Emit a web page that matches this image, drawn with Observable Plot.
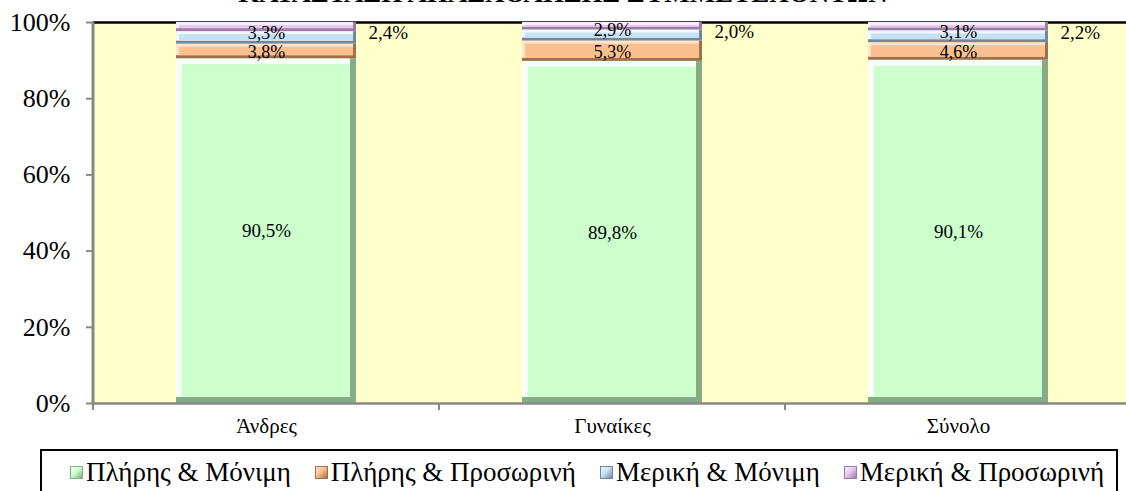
<!DOCTYPE html>
<html>
<head>
<meta charset="utf-8">
<script src="https://cdn.jsdelivr.net/npm/d3@7"></script>
<script src="https://cdn.jsdelivr.net/npm/@observablehq/plot@0.6"></script>
<style>
  html, body { margin: 0; padding: 0; background: #fff; overflow: hidden; }
  #wrap { position: relative; width: 1126px; height: 491px; overflow: hidden; font-family: "Liberation Serif", "Times New Roman", serif; }
  #title { position: absolute; left: 0; width: 1126px; top: -20px; text-align: center; font-weight: bold; font-size: 27px; line-height: 27px; color: #000; }
  #chart { position: absolute; left: 0; top: 0; }
  #legend { position: absolute; left: 40px; top: 449px; width: 1078px; height: 60px; border: 2px solid #000; box-sizing: border-box; display: flex; justify-content: center; gap: 24px; padding-top: 5px; padding-left: 16px; font-size: 27px; color: #000; }
  .item { display: flex; align-items: center; height: 32px; white-space: nowrap; }
  .sw { width: 13px; height: 13px; margin-right: 3px; box-sizing: border-box; }
</style>
</head>
<body>
<div id="wrap">
  <div id="title"></div>
  <div id="chart"></div>
  <div id="legend"></div>
</div>
<script>
const titleText = "ΚΑΤΑΣΤΑΣΗ ΑΠΑΣΧΟΛΗΣΗΣ ΣΥΜΜΕΤΕΧΟΝΤΩΝ";
const categories = ["Άνδρες", "Γυναίκες", "Σύνολο"];
const series = ["Πλήρης & Μόνιμη", "Πλήρης & Προσωρινή", "Μερική & Μόνιμη", "Μερική & Προσωρινή"];
const fullPermanent = [90.5, 89.8, 90.1];
const fullTemporary = [3.8, 5.3, 4.6];
const partPermanent = [3.3, 2.9, 3.1];
const partTemporary = [2.4, 2.0, 2.2];
const yTicks = [0, 20, 40, 60, 80, 100];
const baseColors = ["#CCFFCC", "#FAC090", "#C6E0F4", "#E8C8F0"];
const lightColors = ["#F6FFF6", "#FFE4CC", "#EEF8FF", "#FAEEFF"];
const darkColors = ["#86AC86", "#A0704A", "#70889E", "#9C7CA6"];
const serifFont = "'Liberation Serif', 'Times New Roman', serif";

const valuesBySeries = [fullPermanent, fullTemporary, partPermanent, partTemporary];
const rows = [];
categories.forEach((cat, ci) => {
  let acc = 0;
  series.forEach((s, si) => {
    const v = valuesBySeries[si][ci];
    rows.push({cat, series: s, si, value: v, y1: acc, y2: acc + v, mid: acc + v / 2});
    acc += v;
  });
});
const fmt = v => v.toFixed(1).replace(".", ",") + "%";

document.getElementById("title").textContent = titleText;

function bevel(filterFn, b) {
  return [
    Plot.barY(rows, {filter: filterFn, x: "cat", y1: "y1", y2: "y2", fill: d => darkColors[d.si]}),
    Plot.barY(rows, {filter: filterFn, x: "cat", y1: "y1", y2: "y2", fill: d => lightColors[d.si], insetRight: b, insetBottom: b}),
    Plot.barY(rows, {filter: filterFn, x: "cat", y1: "y1", y2: "y2", fill: d => baseColors[d.si], insetLeft: b, insetRight: b, insetTop: b, insetBottom: b})
  ];
}

const axisExtras = (index, scales, values, dimensions) => {
  const {marginLeft, marginTop, marginBottom, height} = dimensions;
  const x = scales.x;
  const g = d3.create("svg:g");
  const yb = height - marginBottom;
  g.append("line").attr("x1", marginLeft).attr("x2", marginLeft).attr("y1", marginTop).attr("y2", yb + 1)
    .attr("stroke", "#888").attr("stroke-width", 3);
  const step = x.step ? x.step() : (x(categories[1]) - x(categories[0]));
  const bw = x.bandwidth ? x.bandwidth() : 0;
  const start = x(categories[0]) - (step - bw) / 2;
  for (let i = 0; i <= categories.length; i++) {
    const bx = start + i * step;
    g.append("line").attr("x1", bx).attr("x2", bx).attr("y1", yb).attr("y2", yb + 7)
      .attr("stroke", "#888").attr("stroke-width", 2);
  }
  return g.node();
};

const plot = Plot.plot({
  width: 1126,
  height: 447,
  marginTop: 22,
  marginBottom: 44,
  marginLeft: 93,
  marginRight: -5,
  style: {fontFamily: serifFont, background: "transparent", color: "#000"},
  x: {domain: categories, paddingInner: 0.48, paddingOuter: 0.24, label: null},
  y: {domain: [0, 100], label: null},
  color: {type: "identity"},
  marks: [
    Plot.frame({fill: "#FFFFCC", stroke: "none"}),
    Plot.ruleY([100], {stroke: "#000", strokeWidth: 2.5}),
    ...bevel(d => d.si === 0, 6),
    ...bevel(d => d.si > 0, 3),
    Plot.ruleY([0], {stroke: "#888", strokeWidth: 2.5}),
    Plot.text(rows, {filter: d => d.si === 0, x: "cat", y: "mid", text: d => fmt(d.value), fontSize: 19, fontFamily: serifFont, fill: "#000"}),
    Plot.text(rows, {filter: d => d.si === 1, x: "cat", y: "mid", text: d => fmt(d.value), fontSize: 18, fontFamily: serifFont, fill: "#000", dy: 1}),
    Plot.text(rows, {filter: d => d.si === 2, x: "cat", y: "mid", text: d => fmt(d.value), fontSize: 18, fontFamily: serifFont, fill: "#000", dy: -5}),
    Plot.text(rows, {filter: d => d.si === 3, x: "cat", y: "mid", text: d => fmt(d.value), fontSize: 19, fontFamily: serifFont, fill: "#000", textAnchor: "start", dx: 102, dy: 6}),
    Plot.axisY({ticks: yTicks, tickFormat: d => d + "%", tickSize: 7, tickPadding: 16, fontSize: 26, fontFamily: serifFont, stroke: "#888", fill: "#000", strokeWidth: 2, label: null}),
    Plot.axisX({tickSize: 0, tickPadding: 15, fontSize: 21, fontFamily: serifFont, fill: "#000", label: null}),
    axisExtras
  ]
});
document.getElementById("chart").appendChild(plot);

const legend = document.getElementById("legend");
series.forEach((s, i) => {
  const item = document.createElement("div");
  item.className = "item";
  const sw = document.createElement("span");
  sw.className = "sw";
  sw.style.background = `linear-gradient(135deg, ${lightColors[i]} 0%, ${baseColors[i]} 45%, ${darkColors[i]} 100%)`;
  sw.style.border = `1px solid ${darkColors[i]}`;
  item.appendChild(sw);
  const t = document.createElement("span");
  t.textContent = s;
  item.appendChild(t);
  legend.appendChild(item);
});
</script>
</body>
</html>
